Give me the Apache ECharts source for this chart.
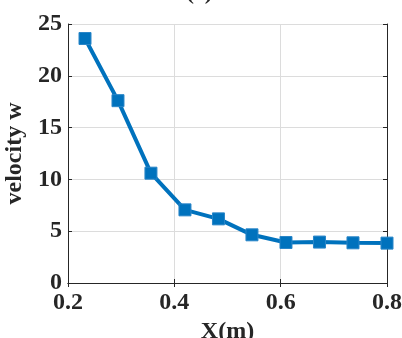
<!DOCTYPE html>
<html>
<head>
<meta charset="utf-8">
<script src="https://cdn.jsdelivr.net/npm/echarts@6/dist/echarts.min.js"></script>
<style>
  html, body { margin: 0; padding: 0; background: #fff; }
  #main { width: 402px; height: 338px; }
</style>
</head>
<body>
<div id="main"></div>
<script>
// 采样位置 X(m) 与速度 w
const xPos = [0.232, 0.294, 0.356, 0.420, 0.483, 0.546, 0.610, 0.673, 0.736, 0.800];
const velocity = [23.6, 17.6, 10.6, 7.06, 6.19, 4.65, 3.91, 3.95, 3.88, 3.85];
const xTicks = [0.2, 0.4, 0.6, 0.8];
const yTicks = [0, 5, 10, 15, 20, 25];

const font = "'Liberation Serif', 'Times New Roman', serif";
const axisColor = "#262626";

const myChart = echarts.init(document.getElementById("main"));

const sideAxis = {
  type: "value",
  axisLine: { show: true, lineStyle: { color: axisColor, width: 1 } },
  axisTick: { show: true, inside: true, length: 4, lineStyle: { color: axisColor } },
  axisLabel: { show: false },
  splitLine: { show: false }
};

const option = {
  animation: false,
  graphic: [
    {
      type: "text",
      left: 186,
      top: -19,
      style: { text: "(c)", font: "bold 24px " + font, fill: "#262626" }
    }
  ],
  grid: { left: 68, right: 15, top: 24, bottom: 55, outerBoundsMode: "none", containLabel: false },
  xAxis: [
    {
      type: "value",
      min: xTicks[0],
      max: xTicks[xTicks.length - 1],
      interval: 0.2,
      position: "bottom",
      name: "X(m)",
      nameLocation: "middle",
      nameGap: 33,
      nameTextStyle: { fontFamily: font, fontWeight: "bold", fontSize: 24, color: axisColor },
      axisLine: { show: true, onZero: false, lineStyle: { color: axisColor, width: 1 } },
      axisTick: { show: true, inside: true, length: 4, lineStyle: { color: axisColor } },
      axisLabel: {
        margin: 8,
        fontFamily: font,
        fontWeight: "bold",
        fontSize: 24,
        color: axisColor,
        formatter: v => v.toFixed(1)
      },
      splitLine: { show: true, lineStyle: { color: "#dcdcdc", width: 1 } }
    },
    Object.assign({ position: "top", min: 0.2, max: 0.8, interval: 0.2 }, sideAxis)
  ],
  yAxis: [
    {
      type: "value",
      min: yTicks[0],
      max: yTicks[yTicks.length - 1],
      interval: 5,
      position: "left",
      name: "velocity w",
      nameLocation: "middle",
      nameGap: 38,
      nameTextStyle: { fontFamily: font, fontWeight: "bold", fontSize: 24, color: axisColor },
      axisLine: { show: true, lineStyle: { color: axisColor, width: 1 } },
      axisTick: { show: true, inside: true, length: 4, lineStyle: { color: axisColor } },
      axisLabel: {
        margin: 6,
        fontFamily: font,
        fontWeight: "bold",
        fontSize: 24,
        color: axisColor
      },
      splitLine: { show: true, lineStyle: { color: "#dcdcdc", width: 1 } }
    },
    Object.assign({ position: "right", min: 0, max: 25, interval: 5 }, sideAxis)
  ],
  series: [
    {
      name: "velocity w",
      type: "line",
      data: xPos.map((x, i) => [x, velocity[i]]),
      symbol: "rect",
      symbolSize: 12,
      showAllSymbol: true,
      clip: false,
      lineStyle: { color: "#0072BD", width: 4 },
      itemStyle: { color: "#0072BD", borderColor: "#2a86c8", borderWidth: 1 }
    }
  ]
};
myChart.setOption(option);
</script>
</body>
</html>
